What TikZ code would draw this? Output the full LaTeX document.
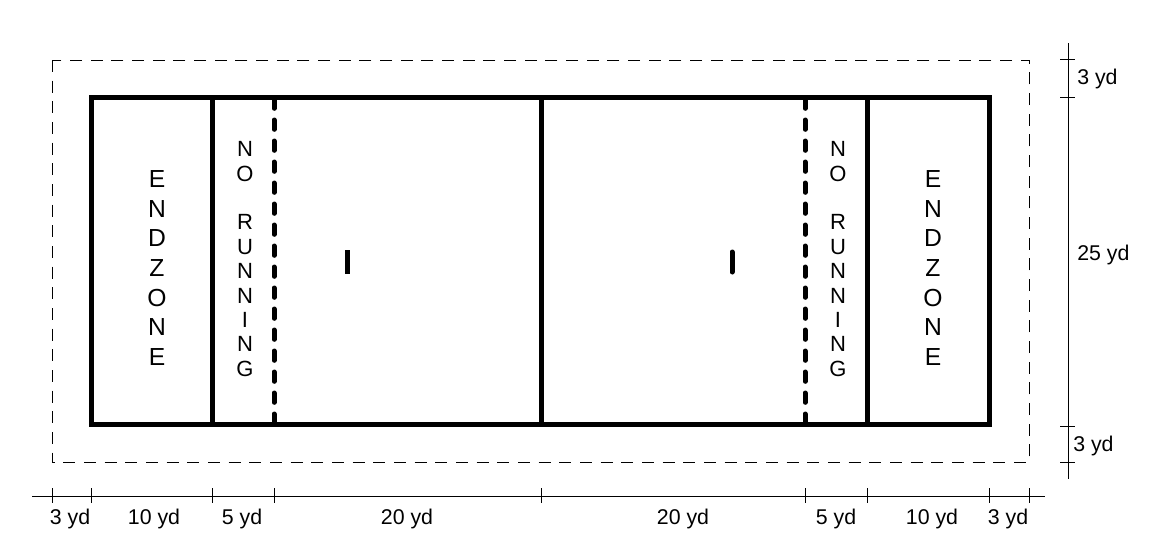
\documentclass[tikz,border=0pt]{standalone}
\usepackage{fontspec}
\setmainfont{Liberation Sans}
\begin{document}
\begin{tikzpicture}[x=0.75pt,y=-0.75pt,
  fieldline/.style={line width=3.75pt},
  brickline/.style={line width=3.75pt, line cap=round, dash pattern=on 7pt off 8.75pt},
  outerline/.style={line width=0.7pt, dash pattern=on 9pt off 6.5pt},
  dimline/.style={line width=0.75pt},
  endz/.style={align=center, inner sep=0pt, font=\fontsize{18.5}{22.3}\selectfont},
  norun/.style={align=center, inner sep=0pt, font=\fontsize{16.5}{18.3}\selectfont},
  dimlabel/.style={inner sep=0pt, font=\fontsize{16}{18}\selectfont}]
\useasboundingbox (0,0) rectangle (1150,547);
% outer dashed boundary
\coordinate (o1) at (52,60);
\coordinate (o2) at (1029,462);
\draw[outerline] (o1) rectangle (o2);
% field
\coordinate (f1) at (91,97);
\coordinate (f2) at (989,424);
\draw[fieldline] (f1) rectangle (f2);
\foreach \x in {212,541,867} {
  \draw[fieldline] (\x,97) -- (\x,424);
}
\foreach \x in {274,805} {
  \draw[brickline] (\x,99) -- (\x,424);
}
% brick marks
\draw[line width=3.75pt] (347,250) -- (347,274);
\draw[line width=3.75pt, line cap=round] (732,252) -- (732,272);
% texts
\node[endz] (ez1) at (157,268) {E\\N\\D\\Z\\O\\N\\E};
\node[endz] (ez2) at (933,268) {E\\N\\D\\Z\\O\\N\\E};
\node[norun] (nr1) at (245,259) {N\\O\\[18.3pt]R\\U\\N\\N\\I\\N\\G};
\node[norun] (nr2) at (838,259) {N\\O\\[18.3pt]R\\U\\N\\N\\I\\N\\G};
% bottom dimension line
\coordinate (b1) at (32,496);
\coordinate (b2) at (1045,496);
\draw[dimline] (b1) -- (b2);
\foreach \x in {52,91,212,274,541,805,867,989,1029} {
  \draw[dimline] (\x,488) -- (\x,503);
}
\node[dimlabel, anchor=base] (l1) at (70,524) {3 yd};
\node[dimlabel, anchor=base] (l2) at (154,524) {10 yd};
\node[dimlabel, anchor=base] (l3) at (242,524) {5 yd};
\node[dimlabel, anchor=base] (l4) at (407,524) {20 yd};
\node[dimlabel, anchor=base] (l5) at (683,524) {20 yd};
\node[dimlabel, anchor=base] (l6) at (836,524) {5 yd};
\node[dimlabel, anchor=base] (l7) at (932,524) {10 yd};
\node[dimlabel, anchor=base] (l8) at (1008,524) {3 yd};
% right dimension line
\coordinate (r1) at (1068,43);
\coordinate (r2) at (1068,479);
\draw[dimline] (r1) -- (r2);
\foreach \y in {59,97,426,462} {
  \draw[dimline] (1060,\y) -- (1075,\y);
}
\node[dimlabel, anchor=base west] (rl1) at (1077,84) {3 yd};
\node[dimlabel, anchor=base west] (rl2) at (1077,260) {25 yd};
\node[dimlabel, anchor=base west] (rl3) at (1073,451) {3 yd};
\end{tikzpicture}
\end{document}
